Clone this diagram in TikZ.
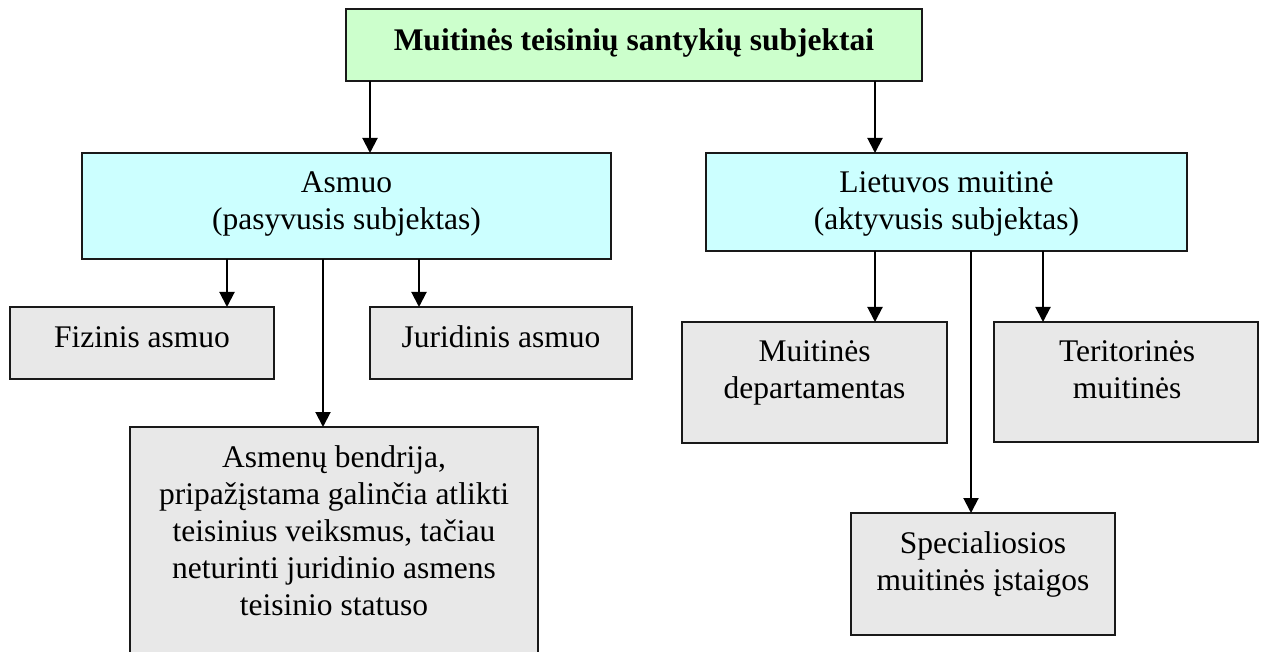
\documentclass[tikz,border=0pt]{standalone}
\usepackage{fontspec}
\setmainfont{Liberation Serif}
\usetikzlibrary{arrows.meta}
\definecolor{tgreen}{HTML}{CCFFCC}
\definecolor{tcyan}{HTML}{CCFFFF}
\definecolor{tgray}{HTML}{E8E8E8}
\begin{document}
\begin{tikzpicture}[x=1pt,y=-1pt,
  box/.style={draw=black!90, line width=1.2pt, inner sep=0pt, outer sep=0pt},
  txt/.style={font=\fontsize{31.5}{37}\selectfont, align=center, anchor=base, inner sep=0pt},
  ttl/.style={font=\fontsize{31.5}{37}\selectfont\bfseries, align=center, anchor=base, inner sep=0pt},
  arr/.style={line width=2pt, -{Triangle[width=15pt,length=15pt]}}]
\useasboundingbox (0,0) rectangle (1264,652);
% boxes
\node[box, fill=tgreen, minimum width=576pt, minimum height=72pt] (title) at (634,45) {};
\node[box, fill=tcyan, minimum width=529pt, minimum height=106pt] (asmuo) at (346.5,206) {};
\node[box, fill=tcyan, minimum width=481pt, minimum height=98pt] (liet) at (946.5,202) {};
\node[box, fill=tgray, minimum width=264pt, minimum height=72pt] (fiz) at (142,343) {};
\node[box, fill=tgray, minimum width=262pt, minimum height=72pt] (jur) at (501,343) {};
\node[box, fill=tgray, minimum width=408pt, minimum height=243pt] (bend) at (334,548.5) {};
\node[box, fill=tgray, minimum width=265pt, minimum height=121pt] (dep) at (814.5,382.5) {};
\node[box, fill=tgray, minimum width=264pt, minimum height=120pt] (ter) at (1126,382) {};
\node[box, fill=tgray, minimum width=264pt, minimum height=122pt] (spec) at (983,574) {};
% texts (anchor base = baseline of the last line)
\node[ttl] (ttitle) at (634,51) {Muitinės teisinių santykių subjektai};
\node[txt] (tasmuo) at (346.5,230) {Asmuo\\(pasyvusis subjektas)};
\node[txt] (tliet) at (946.5,230) {Lietuvos muitinė\\(aktyvusis subjektas)};
\node[txt] (tfiz) at (142,348) {Fizinis asmuo};
\node[txt] (tjur) at (501,348) {Juridinis asmuo};
\node[txt] (tbend) at (334,615) {Asmenų bendrija,\\pripažįstama galinčia atlikti\\teisinius veiksmus, tačiau\\neturinti juridinio asmens\\teisinio statuso};
\node[txt] (tdep) at (814.5,398) {Muitinės\\departamentas};
\node[txt] (tter) at (1127,398) {Teritorinės\\muitinės};
\node[txt] (tspec) at (983,590) {Specialiosios\\muitinės įstaigos};
% connector x positions
\coordinate (xa) at (370,0);
\coordinate (xb) at (875,0);
\coordinate (xc) at (227,0);
\coordinate (xd) at (323,0);
\coordinate (xe) at (419,0);
\coordinate (xf) at (971,0);
\coordinate (xg) at (1043,0);
% connectors
\draw[arr] (title.south -| xa) -- (asmuo.north -| xa);
\draw[arr] (title.south -| xb) -- (liet.north -| xb);
\draw[arr] (asmuo.south -| xc) -- (fiz.north -| xc);
\draw[arr] (asmuo.south -| xd) -- (bend.north -| xd);
\draw[arr] (asmuo.south -| xe) -- (jur.north -| xe);
\draw[arr] (liet.south -| xb) -- (dep.north -| xb);
\draw[arr] (liet.south -| xf) -- (spec.north -| xf);
\draw[arr] (liet.south -| xg) -- (ter.north -| xg);
\end{tikzpicture}
\end{document}
